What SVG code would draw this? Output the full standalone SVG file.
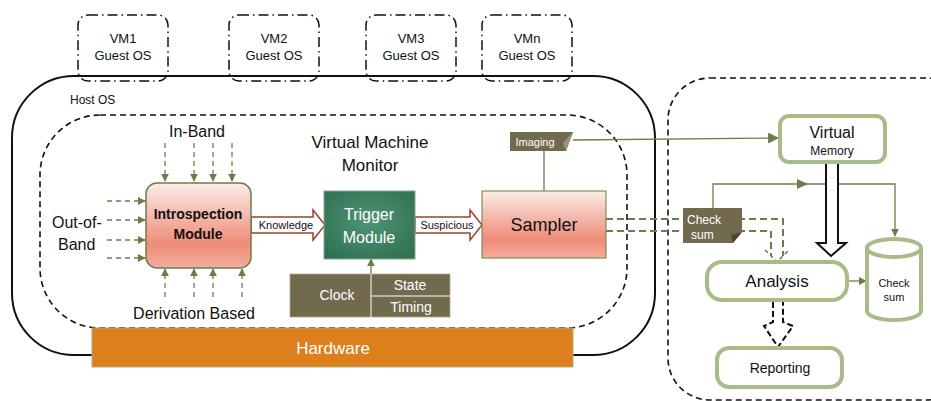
<svg xmlns="http://www.w3.org/2000/svg" width="931" height="401" viewBox="0 0 931 401">
<defs>
<linearGradient id="pink" x1="0" y1="0" x2="0" y2="1">
<stop offset="0" stop-color="#FCECE8"/>
<stop offset="0.72" stop-color="#EE8C78"/>
<stop offset="1" stop-color="#F3AD9E"/>
</linearGradient>
<radialGradient id="green" cx="0.5" cy="0.45" r="0.7">
<stop offset="0" stop-color="#4E9474"/>
<stop offset="1" stop-color="#2F6E52"/>
</radialGradient>
<marker id="ah" viewBox="0 0 10 10" refX="9" refY="5" markerWidth="8" markerHeight="8" markerUnits="userSpaceOnUse" orient="auto">
<path d="M0,0 L10,5 L0,10 z" fill="#6B7D4B"/>
</marker>
<marker id="ahL" viewBox="0 0 10 10" refX="9" refY="5" markerWidth="11" markerHeight="11" markerUnits="userSpaceOnUse" orient="auto">
<path d="M0,0 L10,5 L0,10 z" fill="#6B7D4B"/>
</marker>
<style>
text{font-family:"Liberation Sans",Arial,sans-serif;fill:#111}
.vm{fill:none;stroke:#111;stroke-width:1.5;stroke-dasharray:10 4 1.5 4}
.vmt{font-size:13px;text-anchor:middle}
.dsh{fill:none;stroke:#6B7D4B;stroke-width:1.3;stroke-dasharray:5 4}
.ol{fill:none;stroke:#6B7D4B;stroke-width:1.3}
.dd{fill:none;stroke:#6B7D4B;stroke-width:2;stroke-dasharray:7 4}
.lg{fill:#fff;stroke:#A8BC8A;stroke-width:4}
.tag{fill:#726A4F}
text.wt{fill:#fff;text-anchor:middle}
text.wl{fill:#fff}
.bl{fill:#fff;stroke:#A0422C;stroke-width:1.5}
</style>
</defs>

<g id="host-os">
<rect x="12" y="76" width="643" height="279" rx="62" fill="none" stroke="#111" stroke-width="2"/>
<text x="70" y="104" font-size="12">Host OS</text>
</g>

<g id="vm1"><rect class="vm" x="78" y="15" width="90" height="66" rx="10"/><text class="vmt" x="123" y="43">VM1</text><text class="vmt" x="123" y="60">Guest OS</text></g>
<g id="vm2"><rect class="vm" x="229" y="15" width="90" height="66" rx="10"/><text class="vmt" x="274" y="43">VM2</text><text class="vmt" x="274" y="60">Guest OS</text></g>
<g id="vm3"><rect class="vm" x="366" y="15" width="90" height="66" rx="10"/><text class="vmt" x="411" y="43">VM3</text><text class="vmt" x="411" y="60">Guest OS</text></g>
<g id="vmn"><rect class="vm" x="482" y="15" width="90" height="66" rx="10"/><text class="vmt" x="527" y="43">VMn</text><text class="vmt" x="527" y="60">Guest OS</text></g>

<g id="vmm">
<rect x="40" y="115" width="587" height="213" rx="60" fill="none" stroke="#111" stroke-width="1.6" stroke-dasharray="6 4"/>
<text x="370" y="148" font-size="17" text-anchor="middle">Virtual Machine</text>
<text x="370" y="171" font-size="17" text-anchor="middle">Monitor</text>
</g>

<g id="analysis-env">
<rect x="668" y="78" width="300" height="322" rx="42" fill="none" stroke="#111" stroke-width="1.6" stroke-dasharray="6 4"/>
</g>

<g id="hardware">
<rect x="92" y="328" width="481" height="39" fill="#DC7F1C" stroke="#A8B07A" stroke-width="1"/>
<text class="wt" x="333" y="354" font-size="17">Hardware</text>
</g>

<g id="connectors">
<line class="dsh" x1="165" y1="143" x2="165" y2="181" marker-end="url(#ah)"/>
<line class="dsh" x1="194" y1="143" x2="194" y2="181" marker-end="url(#ah)"/>
<line class="dsh" x1="213" y1="143" x2="213" y2="181" marker-end="url(#ah)"/>
<line class="dsh" x1="232" y1="143" x2="232" y2="181" marker-end="url(#ah)"/>
<line class="dsh" x1="107" y1="201" x2="145" y2="201" marker-end="url(#ah)"/>
<line class="dsh" x1="107" y1="220" x2="145" y2="220" marker-end="url(#ah)"/>
<line class="dsh" x1="107" y1="240" x2="145" y2="240" marker-end="url(#ah)"/>
<line class="dsh" x1="107" y1="258" x2="145" y2="258" marker-end="url(#ah)"/>
<line class="dsh" x1="165" y1="297" x2="165" y2="269" marker-end="url(#ah)"/>
<line class="dsh" x1="194" y1="297" x2="194" y2="269" marker-end="url(#ah)"/>
<line class="dsh" x1="213" y1="297" x2="213" y2="269" marker-end="url(#ah)"/>
<line class="dsh" x1="242" y1="297" x2="242" y2="269" marker-end="url(#ah)"/>
<path class="bl" d="M251,217 H313 V210 L325,225 L313,240 V233 H251 Z"/>
<text x="286" y="229" font-size="11" text-anchor="middle">Knowledge</text>
<path class="bl" d="M415,217 H470 V210 L482,225 L470,240 V233 H415 Z"/>
<text x="447" y="229" font-size="11" text-anchor="middle">Suspicious</text>
<line class="ol" x1="371" y1="274" x2="371" y2="259" marker-end="url(#ah)"/>
<line class="ol" x1="544" y1="151" x2="544" y2="191"/>
<line class="ol" x1="573" y1="140" x2="778" y2="138" marker-end="url(#ahL)"/>
<path class="dd" d="M606,219 H783 V256"/>
<path class="dd" d="M606,231 H771 V256"/>
<path d="M765,250 L777,262 L789,250" fill="none" stroke="#6B7D4B" stroke-width="1.5" stroke-dasharray="4 3"/>
<path class="ol" d="M713,208 V184 H895 V236" marker-end="url(#ah)"/>
<path d="M797,179 L808,184 L797,189 z" fill="#6B7D4B"/>
<path d="M826,163 V243 H817 L831,256 L846,243 H838 V163" fill="#fff" stroke="#111" stroke-width="2"/>
<line class="ol" x1="848" y1="281" x2="866" y2="281" marker-end="url(#ah)"/>
<path d="M773,302 V322 L764,326 L778,347 L793,326 L783,322 V302" fill="#fff" stroke="#111" stroke-width="2" stroke-dasharray="6 3"/>
</g>

<g id="introspection">
<rect x="146" y="183" width="105" height="85" rx="11" fill="url(#pink)" stroke="#6B7D4B" stroke-width="1.5"/>
<text x="198" y="219" font-size="14" font-weight="bold" text-anchor="middle">Introspection</text>
<text x="198" y="239" font-size="14" font-weight="bold" text-anchor="middle">Module</text>
</g>
<g id="labels">
<text x="197" y="137" font-size="16" text-anchor="middle">In-Band</text>
<text x="52" y="228" font-size="16">Out-of-</text>
<text x="58" y="250" font-size="16">Band</text>
<text x="194" y="319" font-size="16" text-anchor="middle">Derivation Based</text>
</g>

<g id="trigger">
<rect x="324" y="191" width="91" height="68" fill="url(#green)" stroke="#8FA480" stroke-width="1"/>
<text class="wt" x="369" y="220" font-size="16">Trigger</text>
<text class="wt" x="369" y="243" font-size="16">Module</text>
</g>

<g id="clock">
<rect x="290" y="274" width="160" height="43" fill="#726A4F" stroke="#A8B07A" stroke-width="0.8"/>
<line x1="371" y1="274" x2="371" y2="317" stroke="#fff" stroke-width="1"/>
<line x1="371" y1="296" x2="450" y2="296" stroke="#fff" stroke-width="1"/>
<text class="wt" x="337" y="300" font-size="14">Clock</text>
<text class="wt" x="410" y="290" font-size="14">State</text>
<text class="wt" x="411" y="312" font-size="14">Timing</text>
</g>

<g id="sampler">
<rect x="482" y="191" width="124" height="67" fill="url(#pink)" stroke="#6B7D4B" stroke-width="1"/>
<text x="544" y="231" font-size="18" text-anchor="middle">Sampler</text>
</g>

<g id="imaging">
<path class="tag" d="M510,132 H573 L566,151 H510 Z"/>
<path d="M566,151 L573,132 L563,143 Z" fill="#9C947A"/>
<text class="wt" x="535" y="146" font-size="11">Imaging</text>
</g>

<g id="checksum-tag">
<path class="tag" d="M683,208 H742 V232 L733,243 H683 Z"/>
<path d="M733,243 L742,232 L731,235 Z" fill="#4A4432"/>
<text class="wl" x="687" y="224" font-size="12">Check</text>
<text class="wl" x="691" y="239" font-size="12">sum</text>
</g>

<g id="virtual-memory">
<rect class="lg" x="780" y="116" width="105" height="46" rx="9"/>
<text x="832" y="138" font-size="16" text-anchor="middle">Virtual</text>
<text x="832" y="155" font-size="12" text-anchor="middle">Memory</text>
</g>

<g id="analysis">
<rect class="lg" x="707" y="262" width="140" height="38" rx="15"/>
<text x="777" y="287" font-size="17" text-anchor="middle">Analysis</text>
</g>

<g id="checksum-store">
<path class="lg" d="M867,248 V311 A27,9 0 0 0 921,311 V248"/>
<ellipse class="lg" cx="894" cy="248" rx="27" ry="9"/>
<text x="894" y="287" font-size="11" text-anchor="middle">Check</text>
<text x="894" y="301" font-size="11" text-anchor="middle">sum</text>
</g>

<g id="reporting">
<rect class="lg" x="717" y="348" width="125" height="39" rx="12"/>
<text x="780" y="373" font-size="14" text-anchor="middle">Reporting</text>
</g>
</svg>
